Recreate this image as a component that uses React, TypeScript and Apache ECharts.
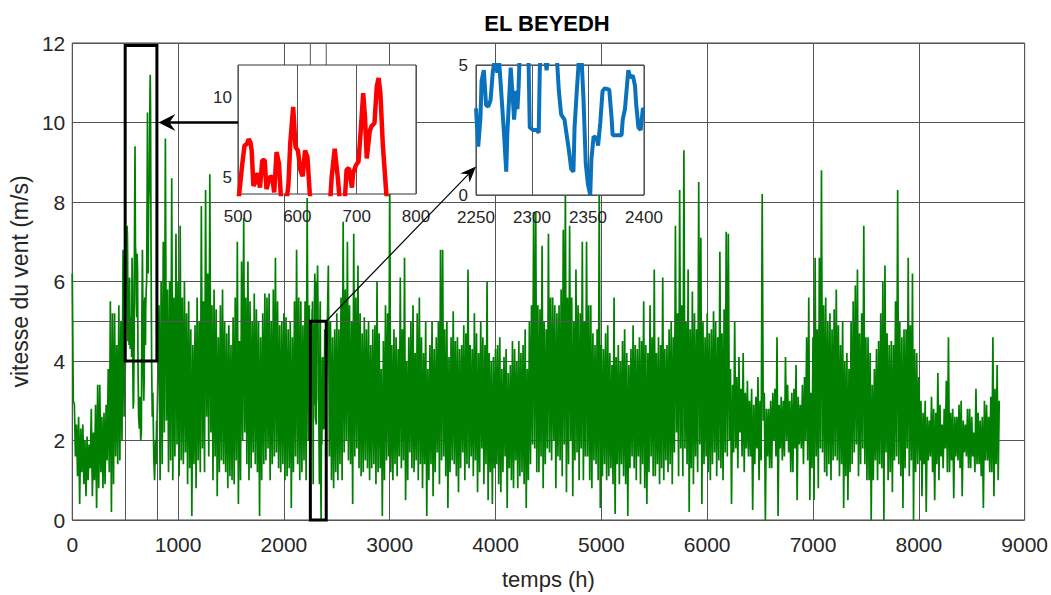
import React, { useEffect, useRef } from "react";
import * as echarts from "echarts";

// ---- texts ----
const TITLE = "EL BEYEDH";
const X_NAME = "temps (h)";
const Y_NAME = "vitesse du vent (m/s)";

// ---- hourly wind speed (m/s) outside the two zoom windows ----
// every block starts at a given hour; "peaks" are the readings every 20 h from
// that hour, "dips" the readings 10 h after each of them.
const STEP_H = 20;
const HALF_H = 10;

const peaksFrom0 = [6.2, 2.9, 2.4, 2.6, 2.3, 2.4, 2.0, 2.1, 1.9, 2.8, 2.2, 2.9, 3.4, 3.4, 2.6, 2.7, 2.9, 3.8, 5.5, 5.2, 5.2, 4.4, 5.4, 5.0, 6.8];
const dipsFrom0 = [3.0, 1.6, 1.1, 0.4, 1.2, 0.9, 0.6, 1.0, 1.3, 0.6, 1.0, 0.3, 0.8, 1.2, 0.8, 0.9, 1.5, 1.2, 0.2, 0.9, 1.6, 1.4, 1.5, 2.0, 2.6];

const peaksFrom820 = [
  5.4, 6.0, 7.0, 9.6, 5.8, 6.0, 8.6, 5.6, 7.2, 6.0,
  7.4, 5.6, 6.0, 5.2, 5.5, 4.8, 4.4, 4.9, 5.6, 5.0,
  7.9, 5.5, 8.3, 6.2, 8.7, 5.4, 5.8, 5.3, 4.6, 5.4,
  5.8, 5.0, 4.7, 4.9, 4.4, 5.1, 5.6, 7.0, 4.5, 6.5,
  7.6, 5.6, 6.5, 5.5, 5.0, 5.7, 5.3, 5.0, 4.6, 5.2,
  5.7, 5.6, 5.7, 5.0, 5.8, 6.6, 5.5, 4.9, 5.0, 5.2,
  5.1, 4.8, 5.0, 4.6, 5.5, 6.8, 5.6, 5.5, 4.9, 5.5,
  8.1, 5.4,
];
const dipsFrom820 = [
  1.0, 1.4, 2.2, 2.5, 1.2, 1.5, 1.0, 1.6, 1.9, 1.1,
  1.5, 1.4, 1.7, 0.9, 1.3, 0.1, 1.4, 0.8, 1.5, 1.2,
  1.8, 1.2, 2.6, 1.6, 2.2, 1.0, 1.6, 0.6, 1.2, 1.5,
  1.4, 1.2, 0.8, 1.1, 1.0, 0.9, 1.5, 0.4, 1.0, 2.0,
  2.2, 1.4, 1.0, 1.3, 1.7, 1.4, 1.2, 0.1, 1.0, 1.4,
  1.5, 1.8, 1.0, 1.4, 1.6, 1.7, 1.3, 1.2, 1.4, 1.0,
  1.1, 1.3, 0.3, 1.2, 1.6, 1.4, 1.0, 1.2, 1.5, 1.0,
  2.0,
];

const peaksFrom2420 = [6.4, 5.0, 4.6, 4.8, 5.2, 4.8, 5.6, 7.5, 5.8, 7.0, 5.4, 5.0, 7.2, 5.6, 6.4, 5.2, 4.7, 5.1, 4.8, 5.0, 4.4, 4.8, 4.9, 6.0, 4.7, 3.8, 4.5, 5.4, 5.2];
const dipsFrom2420 = [1.6, 1.0, 0.8, 1.2, 1.0, 1.4, 1.0, 1.7, 2.0, 1.5, 1.4, 0.4, 1.6, 1.8, 1.3, 1.1, 1.2, 1.5, 1.3, 1.0, 1.3, 1.4, 0.9, 1.2, 1.3, 0.1, 1.0, 1.5, 1.6];

const peaksFrom3000 = [
  8.6, 4.4, 4.8, 4.6, 4.3, 6.1, 4.8, 6.6, 4.0, 4.6,
  5.0, 5.4, 4.2, 5.2, 5.6, 4.6, 4.2, 5.0, 3.8, 4.4,
  5.0, 4.3, 4.6, 5.0, 6.8, 6.8, 4.8, 5.0, 4.1, 4.6,
  5.25, 4.5, 4.6, 4.3, 4.4, 4.9, 4.7, 6.3, 4.4, 4.3,
  5.2, 4.7, 4.2, 5.0, 4.6, 4.4, 6.0, 4.2, 4.0, 4.1,
];
const dipsFrom3000 = [
  1.2, 1.0, 1.4, 1.1, 1.6, 1.3, 1.5, 0.5, 1.0, 1.7,
  1.3, 1.2, 1.5, 1.0, 1.4, 0.8, 1.4, 0.1, 1.0, 1.4,
  0.6, 1.2, 1.7, 0.9, 1.5, 1.6, 1.1, 0.3, 1.2, 1.5,
  1.4, 1.1, 0.7, 1.3, 1.7, 1.0, 1.4, 1.3, 1.6, 1.1,
  1.5, 0.7, 1.2, 1.8, 0.9, 1.4, 0.5, 1.2, 0.4, 1.3,
];

const peaksFrom4000 = [
  4.3, 4.4, 4.6, 3.8, 4.1, 4.3, 3.7, 3.9, 4.5, 4.3,
  4.0, 4.5, 4.2, 4.4, 4.8, 3.8, 5.0, 5.4, 7.75, 7.75,
  5.4, 5.3, 6.9, 5.0, 4.8, 7.2, 5.6, 5.6, 5.4, 5.2,
  5.4, 5.8, 7.3, 8.4, 5.6, 7.4, 5.6, 5.0, 6.3, 5.4,
  5.2, 7.0, 5.0, 7.0, 5.4, 5.4, 4.7, 4.4, 4.8, 8.4,
];
const dipsFrom4000 = [
  1.4, 0.9, 0.7, 1.2, 1.6, 0.3, 1.3, 1.0, 0.8, 1.5,
  0.8, 1.1, 1.2, 0.9, 0.3, 1.0, 1.4, 1.9, 1.8, 1.2,
  1.2, 1.6, 0.8, 1.4, 1.8, 1.7, 1.5, 2.0, 0.8, 1.6,
  1.5, 1.1, 1.9, 0.7, 1.4, 2.0, 0.6, 1.5, 1.7, 1.0,
  1.8, 1.0, 1.6, 1.6, 1.0, 0.8, 1.5, 1.4, 1.0, 0.3,
];

const peaksFrom5000 = [
  4.4, 4.3, 4.7, 4.9, 4.2, 3.9, 5.6, 4.1, 4.4, 4.0,
  4.5, 4.8, 4.2, 3.9, 4.3, 4.9, 4.4, 4.3, 4.6, 4.5,
  5.5, 4.4, 4.2, 5.4, 4.6, 6.3, 4.2, 4.6, 4.4, 6.1,
  4.3, 4.4, 4.8, 5.0, 4.6, 7.4, 5.2, 8.3, 5.4, 9.3,
  5.0, 6.3, 4.8, 5.75, 5.2, 4.8, 8.5, 7.1, 5.0, 4.6,
];
const dipsFrom5000 = [
  1.1, 1.4, 1.0, 1.1, 1.3, 0.9, 0.15, 1.4, 0.9, 1.4,
  1.1, 0.9, 0.1, 1.3, 1.6, 1.3, 1.0, 1.6, 0.9, 1.4,
  0.8, 0.4, 1.2, 1.6, 1.1, 1.1, 1.4, 0.9, 1.3, 1.0,
  1.5, 1.2, 1.4, 0.9, 1.7, 2.2, 1.1, 1.8, 1.1, 1.8,
  1.4, 0.2, 1.3, 0.9, 1.6, 1.2, 1.9, 0.4, 1.4, 1.6,
];

const peaksFrom6000 = [
  5.2, 4.7, 4.8, 5.25, 5.0, 4.6, 6.75, 4.7, 5.3, 7.25,
  7.2, 3.8, 3.4, 5.0, 3.6, 4.1, 3.3, 4.2, 3.2, 3.5,
  3.0, 3.3, 2.9, 3.1, 3.6, 3.0, 8.2, 3.2, 2.8, 2.8,
  3.0, 3.2, 3.3, 4.6, 2.9, 3.1, 3.0, 4.1, 3.4, 3.0,
  3.2, 3.3, 3.9, 3.1, 2.9, 3.4, 3.6, 4.6, 5.6, 3.2,
];
const dipsFrom6000 = [
  1.2, 1.0, 1.4, 1.7, 1.1, 1.5, 1.3, 1.0, 1.7, 1.6,
  2.0, 0.4, 1.7, 1.8, 1.3, 2.2, 1.6, 1.2, 1.8, 1.6,
  1.6, 0.25, 1.4, 1.8, 1.0, 1.5, 2.5, 0.0, 1.6, 1.3,
  1.3, 2.0, 1.6, 0.1, 1.8, 1.5, 1.6, 2.0, 1.7, 1.2,
  1.2, 1.8, 0.5, 1.9, 1.8, 1.4, 2.0, 1.5, 0.5, 1.3,
];

const peaksFrom7000 = [
  4.6, 6.6, 4.8, 6.6, 8.8, 5.4, 5.6, 5.0, 5.2, 4.8,
  5.3, 5.8, 4.9, 4.4, 5.0, 4.0, 4.2, 3.8, 5.0, 5.5,
  5.9, 6.3, 4.7, 5.2, 7.4, 4.6, 4.6, 4.2, 3.4, 3.8,
  4.3, 4.5, 5.2, 6.0, 6.4, 4.7, 4.4, 4.5, 4.4, 5.5,
  8.3, 5.0, 4.6, 4.8, 4.8, 6.6, 4.9, 6.2, 4.3, 4.2,
];
const dipsFrom7000 = [
  0.5, 1.6, 0.8, 1.8, 1.7, 1.2, 1.1, 1.4, 1.0, 1.5,
  1.6, 1.5, 1.1, 1.4, 0.3, 1.1, 0.5, 1.2, 1.4, 1.7,
  1.9, 1.1, 1.4, 1.8, 1.4, 1.0, 1.0, 0.0, 1.0, 1.5,
  1.0, 1.4, 1.3, 0.0, 1.7, 1.0, 1.2, 0.7, 1.5, 1.6,
  1.4, 1.1, 0.3, 1.3, 1.8, 1.1, 1.5, 0.0, 1.2, 1.4,
];

const peaksFrom8000 = [
  3.6, 3.0, 2.7, 3.0, 2.6, 2.5, 3.1, 2.8, 2.7, 3.7,
  2.9, 2.4, 2.8, 3.5, 4.6, 2.7, 2.8, 2.6, 2.6, 2.9,
  3.0, 2.5, 2.4, 2.8, 2.8, 2.6, 2.2, 3.3, 2.7, 2.5,
  2.6, 3.0, 2.9, 2.6, 3.1, 4.6, 3.3, 3.9, 3.0,
];
const dipsFrom8000 = [
  1.5, 0.6, 1.4, 0.2, 1.5, 1.6, 1.2, 0.5, 1.4, 1.0,
  1.6, 1.3, 1.8, 1.2, 1.2, 1.5, 0.55, 1.6, 1.5, 1.3,
  0.6, 1.7, 1.6, 1.3, 1.3, 1.6, 1.2, 1.4, 1.4, 1.1,
  0.3, 1.5, 1.5, 1.2, 1.2, 0.6, 1.4, 1.0,
];

const hourlyBlocks: [number, number[], number[]][] = [
  [0, peaksFrom0, dipsFrom0],
  [820, peaksFrom820, dipsFrom820],
  [2420, peaksFrom2420, dipsFrom2420],
  [3000, peaksFrom3000, dipsFrom3000],
  [4000, peaksFrom4000, dipsFrom4000],
  [5000, peaksFrom5000, dipsFrom5000],
  [6000, peaksFrom6000, dipsFrom6000],
  [7000, peaksFrom7000, dipsFrom7000],
  [8000, peaksFrom8000, dipsFrom8000],
];

// ---- detailed readings inside the two zoom windows: [hour, m/s] ----
const windowA = [
  [500, 3.6], [502, 4.0], [507, 5.8], [511, 7.0], [515, 7.1], [518, 7.4], [521, 7.2], [523, 6.7], [526, 4.5], [529, 4.7],
  [533, 5.3], [537, 4.4], [541, 6.1], [545, 6.1], [548, 4.3], [552, 4.85], [555, 5.1], [558, 5.0], [561, 4.1], [565, 6.6],
  [569, 5.9], [572, 4.0], [576, 2.8], [580, 3.0], [585, 4.6], [588, 7.1], [593, 9.4], [597, 6.9], [601, 6.7], [605, 5.5],
  [609, 5.1], [613, 6.7], [617, 6.3], [621, 4.0], [627, 2.6], [634, 2.3], [641, 3.1], [647, 2.0], [653, 2.2], [658, 5.1],
  [663, 6.8], [668, 5.1], [671, 3.8], [676, 3.0], [680, 3.6], [683, 5.5], [687, 5.6], [692, 4.4], [694, 5.3], [699, 5.8],
  [703, 6.0], [707, 8.0], [711, 10.25], [714, 8.8], [717, 6.2], [722, 7.9], [725, 8.2], [730, 8.4], [734, 10.7], [737, 11.2],
  [740, 10.25], [744, 7.1], [750, 4.0], [756, 2.6], [762, 3.2], [770, 1.6], [778, 1.0], [786, 2.0], [792, 1.4], [797, 2.5],
  [800, 2.2],
];
const windowB = [
  [2250, 3.33], [2252, 1.86], [2254, 3.0], [2255, 4.4], [2257, 4.8], [2259, 3.46], [2261, 3.4], [2263, 3.65], [2265, 4.74], [2267, 5.3],
  [2269, 4.7], [2270, 5.5], [2272, 4.3], [2275, 2.37], [2277, 0.9], [2278, 2.4], [2281, 4.9], [2283, 3.65], [2284, 2.9], [2286, 4.0],
  [2287, 3.3], [2288, 4.1], [2289, 5.4], [2292, 6.2], [2295, 5.8], [2297, 5.0], [2298, 2.6], [2301, 2.5], [2304, 2.5], [2306, 2.4],
  [2307, 4.9], [2309, 6.0], [2312, 5.2], [2313, 4.8], [2315, 5.6], [2318, 6.4], [2322, 5.4], [2324, 4.0], [2326, 3.1], [2329, 2.9],
  [2331, 2.3], [2333, 1.7], [2335, 1.0], [2337, 0.9], [2338, 2.6], [2340, 4.0], [2342, 5.3], [2344, 5.5], [2346, 3.65], [2348, 1.2],
  [2350, 0.4], [2352, 0.0], [2353, 1.35], [2355, 2.25], [2358, 2.2], [2359, 1.9], [2361, 2.8], [2363, 4.0], [2365, 4.1], [2369, 4.05],
  [2371, 3.0], [2372, 2.3], [2375, 2.3], [2380, 2.3], [2381, 2.9], [2383, 3.3], [2386, 4.8], [2388, 4.5], [2390, 4.6], [2392, 4.2],
  [2393, 3.5], [2395, 2.6], [2397, 2.5], [2399, 3.33], [2400, 3.3],
];

// ---- annotation anchors (data units) ----
const BOX_A = { t0: 500, t1: 800, v0: 4, v1: 11.94 };
const BOX_B = { t0: 2250, t1: 2400, v0: 0, v1: 5 };
const ARROW_A_LEVEL = 10; // horizontal arrow height on the main axes
const ARROW_B_TARGET = 1.1; // where the second arrow meets the zoom panel

// ---- styling ----
const FONT = "'Liberation Sans', Arial, Helvetica, sans-serif";
const TEXT = "#262626";
const GRID_LINE = "#555555";
const GREEN = "#007f00";
const RED = "#ff0000";
const BLUE = "#0a72bd";

const MAIN = { left: 68, top: 43, width: 958, height: 480 };
const PANEL_A = { left: 238, top: 65, width: 178, height: 129 };
const PANEL_B = { left: 476, top: 65, width: 168, height: 130 };

function buildSeriesData(): number[][] {
  const pts: number[][] = [];
  hourlyBlocks.forEach(([start, peaks, dips]) => {
    peaks.forEach((v, i) => pts.push([start + i * STEP_H, v]));
    dips.forEach((v, i) => pts.push([start + i * STEP_H + HALF_H, v]));
  });
  windowA.forEach((p) => pts.push([p[0], p[1]]));
  windowB.forEach((p) => pts.push([p[0], p[1]]));
  pts.sort((a, b) => a[0] - b[0]);
  return pts;
}

const plain = (v: number) => String(v);
const gridLineStyle = { lineStyle: { color: GRID_LINE, width: 1, type: "solid" as const } };

function panelAxisLabel(margin: number) {
  return { fontFamily: FONT, fontSize: 17, color: TEXT, margin, formatter: plain };
}

function buildOption(): echarts.EChartsOption {
  return {
    animation: false,
    backgroundColor: "#ffffff",
    grid: [
      { ...MAIN, show: true, backgroundColor: "transparent", borderColor: "#444", borderWidth: 1, z: 0 },
      { ...PANEL_A, show: true, backgroundColor: "#ffffff", borderColor: "#333", borderWidth: 1, z: 10 },
      { ...PANEL_B, show: true, backgroundColor: "#ffffff", borderColor: "#333", borderWidth: 1, z: 10 },
    ],
    xAxis: [
      {
        gridIndex: 0, type: "value", min: 0, max: 9000, interval: 1000,
        name: X_NAME, nameLocation: "middle", nameGap: 48,
        nameTextStyle: { fontFamily: FONT, fontSize: 22, color: TEXT },
        axisLine: { show: false }, axisTick: { show: false },
        axisLabel: { fontFamily: FONT, fontSize: 21, color: TEXT, margin: 14, formatter: plain },
        splitLine: { show: true, ...gridLineStyle },
      },
      {
        gridIndex: 1, type: "value", min: 500, max: 800, interval: 100, z: 12,
        axisLine: { show: false }, axisTick: { show: false },
        axisLabel: panelAxisLabel(14),
        splitLine: { show: true, ...gridLineStyle },
      },
      {
        gridIndex: 2, type: "value", min: 2250, max: 2400, interval: 50, z: 12,
        axisLine: { show: false }, axisTick: { show: false },
        axisLabel: panelAxisLabel(14),
        splitLine: { show: true, ...gridLineStyle },
      },
    ],
    yAxis: [
      {
        gridIndex: 0, type: "value", min: 0, max: 12, interval: 2,
        name: Y_NAME, nameLocation: "middle", nameGap: 37,
        nameTextStyle: { fontFamily: FONT, fontSize: 23, color: TEXT },
        axisLine: { show: false }, axisTick: { show: false },
        axisLabel: { fontFamily: FONT, fontSize: 21, color: TEXT, margin: 7, formatter: plain },
        splitLine: { show: true, ...gridLineStyle },
      },
      {
        gridIndex: 1, type: "value", min: 4, max: 12, interval: 1, z: 12,
        axisLine: { show: false }, axisTick: { show: false },
        axisLabel: { ...panelAxisLabel(6), formatter: (v: number) => (v === 5 || v === 10 ? String(v) : "") },
        splitLine: { show: false },
      },
      {
        gridIndex: 2, type: "value", min: 0, max: 5, interval: 5, z: 12,
        axisLine: { show: false }, axisTick: { show: false },
        axisLabel: panelAxisLabel(8),
        splitLine: { show: true, ...gridLineStyle },
      },
    ],
    series: [
      {
        // extra reference lines on the main axes
        type: "line", xAxisIndex: 0, yAxisIndex: 0, data: [], z: 1, silent: true,
        markLine: {
          silent: true, symbol: ["none", "none"], label: { show: false },
          lineStyle: { color: GRID_LINE, width: 1, type: "solid" },
          data: [{ xAxis: BOX_A.t0 }, { xAxis: BOX_A.t1 }, { yAxis: BOX_B.v1 }],
        },
      },
      {
        name: "vitesse", type: "line", xAxisIndex: 0, yAxisIndex: 0, z: 2,
        data: buildSeriesData(), showSymbol: false, symbol: "none",
        lineStyle: { color: GREEN, width: 1.7, join: "bevel" }, silent: true,
      },
      {
        // horizontal guides of the first zoom panel
        type: "line", xAxisIndex: 1, yAxisIndex: 1, data: [], z: 12, silent: true,
        markLine: {
          silent: true, symbol: ["none", "none"], label: { show: false },
          lineStyle: { color: GRID_LINE, width: 1, type: "solid" },
          data: [{ yAxis: 5 }, { yAxis: 10 }],
        },
      },
      {
        type: "line", xAxisIndex: 1, yAxisIndex: 1, z: 13, data: windowA,
        showSymbol: false, symbol: "none", clip: true, silent: true,
        lineStyle: { color: RED, width: 4.5 },
      },
      {
        type: "line", xAxisIndex: 2, yAxisIndex: 2, z: 13, data: windowB,
        showSymbol: false, symbol: "none", clip: true, silent: true,
        lineStyle: { color: BLUE, width: 4 },
      },
    ],
  };
}

function arrowHead(tip: number[], from: number[], len: number, half: number, notch: number) {
  const dx = tip[0] - from[0];
  const dy = tip[1] - from[1];
  const d = Math.hypot(dx, dy) || 1;
  const ux = dx / d, uy = dy / d;
  const nx = -uy, ny = ux;
  return [
    [tip[0], tip[1]],
    [tip[0] - ux * len + nx * half, tip[1] - uy * len + ny * half],
    [tip[0] - ux * notch, tip[1] - uy * notch],
    [tip[0] - ux * len - nx * half, tip[1] - uy * len - ny * half],
  ];
}

function buildOverlay(chart: echarts.ECharts) {
  const main = (t: number, v: number) => chart.convertToPixel({ gridIndex: 0 }, [t, v]) as number[];
  const panelB = (t: number, v: number) => chart.convertToPixel({ gridIndex: 2 }, [t, v]) as number[];

  const a0 = main(BOX_A.t0, BOX_A.v1);
  const a1 = main(BOX_A.t1, BOX_A.v0);
  const b0 = main(BOX_B.t0, BOX_B.v1);
  const b1 = main(BOX_B.t1, BOX_B.v0);

  // arrow from the first panel to its box
  const aTip = main(BOX_A.t1, ARROW_A_LEVEL);
  aTip[0] += 1.5;
  const aStart = [PANEL_A.left, aTip[1]];
  const aHead = arrowHead(aTip, aStart, 17, 8.5, 11);

  // arrow from the second box to its panel
  const bStart = main(BOX_B.t1, BOX_B.v1);
  const bTip = panelB(BOX_B.t0, ARROW_B_TARGET);
  const bHead = arrowHead(bTip, bStart, 16, 6.5, 11);

  const topY = main(0, 12)[1];

  return [
    {
      type: "text", z: 30, x: MAIN.left + MAIN.width / 2, y: 23,
      style: { text: TITLE, fontFamily: FONT, fontWeight: "bold", fontSize: 22, fill: "#000", textAlign: "center", textVerticalAlign: "middle" },
    },
    // short guides above the second panel
    { type: "line", z: 5, shape: { x1: b0[0], y1: topY, x2: b0[0], y2: PANEL_B.top }, style: { stroke: GRID_LINE, lineWidth: 1 } },
    { type: "line", z: 5, shape: { x1: b1[0], y1: topY, x2: b1[0], y2: PANEL_B.top }, style: { stroke: GRID_LINE, lineWidth: 1 } },
    {
      type: "rect", z: 20,
      shape: { x: a0[0], y: a0[1], width: a1[0] - a0[0], height: a1[1] - a0[1] },
      style: { fill: "none", stroke: "#000", lineWidth: 3 },
    },
    {
      type: "rect", z: 20,
      shape: { x: b0[0], y: b0[1], width: b1[0] - b0[0], height: b1[1] - b0[1] },
      style: { fill: "none", stroke: "#000", lineWidth: 3 },
    },
    { type: "line", z: 20, shape: { x1: aStart[0], y1: aStart[1], x2: aHead[2][0], y2: aHead[2][1] }, style: { stroke: "#000", lineWidth: 2.5 } },
    { type: "polygon", z: 20, shape: { points: aHead }, style: { fill: "#000" } },
    { type: "line", z: 20, shape: { x1: bStart[0], y1: bStart[1], x2: bHead[2][0], y2: bHead[2][1] }, style: { stroke: "#000", lineWidth: 1.2 } },
    { type: "polygon", z: 20, shape: { points: bHead }, style: { fill: "#000" } },
  ];
}

export default function App() {
  const ref = useRef<HTMLDivElement>(null);
  useEffect(() => {
    if (!ref.current) return;
    const chart = echarts.init(ref.current, undefined, { renderer: "svg" });
    chart.setOption(buildOption());
    chart.setOption({ graphic: buildOverlay(chart) });
    return () => chart.dispose();
  }, []);
  return <div ref={ref} style={{ position: "absolute", left: 0, top: 0, width: 1051, height: 595 }} />;
}
